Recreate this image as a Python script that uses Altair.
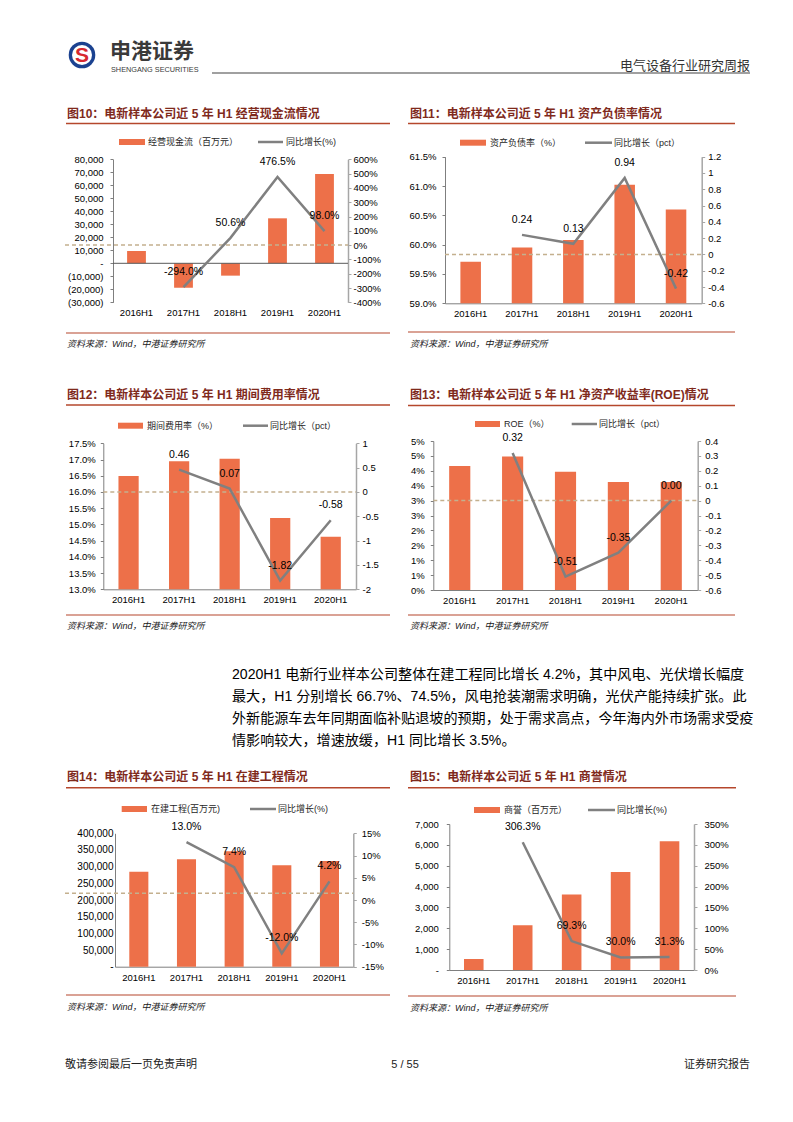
import altair as alt
import pandas as pd

# ---------------- data ----------------
CATS = ["2016H1", "2017H1", "2018H1", "2019H1", "2020H1"]

CASHFLOW = [9500, -18800, -9500, 34600, 68700]        # 经营现金流（百万元）
CASHFLOW_YOY = [None, -294.0, 50.6, 476.5, 98.0]      # 同比增长(%)
DEBT_RATIO = [59.71, 59.95, 60.08, 61.02, 60.60]      # 资产负债率（%）
DEBT_CHG = [None, 0.24, 0.13, 0.94, -0.42]            # 同比增长（pct）
EXPENSE_RATIO = [16.49, 16.95, 17.02, 15.20, 14.62]   # 期间费用率（%）
EXPENSE_CHG = [None, 0.46, 0.07, -1.82, -0.58]        # 同比增长（pct）
ROE = [4.16, 4.48, 3.97, 3.62, 3.62]                  # ROE（%）
ROE_CHG = [None, 0.32, -0.51, -0.35, 0.00]            # 同比增长（pct）
CIP = [285000, 322000, 346000, 304500, 317300]        # 在建工程(百万元)
CIP_YOY = [None, 13.0, 7.4, -12.0, 4.2]               # 同比增长(%)
GOODWILL = [527, 2140, 3620, 4700, 6170]              # 商誉（百万元）
GOODWILL_YOY = [None, 306.3, 69.3, 30.0, 31.3]        # 同比增长(%)

# axis tick values
T10_L = [-30000, -20000, -10000, 0, 10000, 20000, 30000, 40000, 50000, 60000, 70000, 80000]
T10_R = [-400, -300, -200, -100, 0, 100, 200, 300, 400, 500, 600]
T11_L = [59.0, 59.5, 60.0, 60.5, 61.0, 61.5]
T11_R = [-0.6, -0.4, -0.2, 0, 0.2, 0.4, 0.6, 0.8, 1.0, 1.2]
T12_L = [13.0, 13.5, 14.0, 14.5, 15.0, 15.5, 16.0, 16.5, 17.0, 17.5]
T12_R = [-2, -1.5, -1, -0.5, 0, 0.5, 1]
T13_L = [0, 0.5, 1, 1.5, 2, 2.5, 3, 3.5, 4, 4.5, 5]
T13_R = [-0.6, -0.5, -0.4, -0.3, -0.2, -0.1, 0, 0.1, 0.2, 0.3, 0.4]
T14_L = [0, 50000, 100000, 150000, 200000, 250000, 300000, 350000, 400000]
T14_R = [-15, -10, -5, 0, 5, 10, 15]
T15_L = [0, 1000, 2000, 3000, 4000, 5000, 6000, 7000]
T15_R = [0, 50, 100, 150, 200, 250, 300, 350]

PARAGRAPH = [
    "2020H1 电新行业样本公司整体在建工程同比增长 4.2%，其中风电、光伏增长幅度",
    "最大，H1 分别增长 66.7%、74.5%，风电抢装潮需求明确，光伏产能持续扩张。此",
    "外新能源车去年同期面临补贴退坡的预期，处于需求高点，今年海内外市场需求受疫",
    "情影响较大，增速放缓，H1 同比增长 3.5%。",
]
SOURCE = "资料来源：Wind，中港证券研究所"

# ---------------- style ----------------
W_CH, H_CH = 777, 1090
OFF = 8
FONT = "Liberation Sans, Noto Sans CJK SC, sans-serif"
BAR = "#ED7049"
LINE = "#808080"
TITLE_C = "#7F2A1C"
RULE_C = "#B5472C"
DASH_C = "#C4B08E"

ONE = pd.DataFrame({"k": [0]})

EXPR_PAREN = "datum.value == 0 ? '-' : (datum.value < 0 ? '(' + format(-datum.value, ',') + ')' : format(datum.value, ','))"
EXPR_DASH0 = "datum.value == 0 ? '-' : format(datum.value, ',')"
EXPR_PCT_SIGNED = "(datum.value < 0 ? '-' : '') + format(abs(datum.value), 'd') + '%'"
EXPR_G_SIGNED = "(datum.value < 0 ? '-' : '') + format(abs(datum.value), '~g')"
EXPR_1F_PCT = "format(datum.value, '.1f') + '%'"
EXPR_ROUND_PCT = "round(datum.value) + '%'"


def text_mark(s, x, y, size, color="#222222", weight="normal", align="left", style="normal"):
    return alt.Chart(ONE).mark_text(
        text=s, align=align, baseline="middle", fontSize=size, color=color,
        fontWeight=weight, fontStyle=style, font=FONT,
    ).encode(x=alt.value(x - OFF), y=alt.value(y - OFF))


def hline(x1, x2, y, color, width, dash=None):
    kw = dict(color=color, strokeWidth=width)
    if dash:
        kw["strokeDash"] = dash
    return alt.Chart(ONE).mark_rule(**kw).encode(
        x=alt.value(x1 - OFF), x2=alt.value(x2 - OFF), y=alt.value(y - OFF))


def rect(x1, x2, y1, y2, color):
    return alt.Chart(ONE).mark_rect(color=color).encode(
        x=alt.value(x1 - OFF), x2=alt.value(x2 - OFF),
        y=alt.value(y1 - OFF), y2=alt.value(y2 - OFF))


def dot(x, y, size, color):
    return alt.Chart(ONE).mark_point(shape="circle", filled=True, size=size, color=color, opacity=1).encode(
        x=alt.value(x - OFF), y=alt.value(y - OFF))


PANELS = [
    dict(plot=(113, 159.3, 348, 302.3), bars=CASHFLOW, line=CASHFLOW_YOY,
         bdom=[-30000, 80000], ldom=[-400, 600], bticks=T10_L, lticks=T10_R,
         bexpr=EXPR_PAREN, lexpr=EXPR_PCT_SIGNED, lab=lambda v: f"{v:.1f}%",
         title="图10：电新样本公司近 5 年 H1 经营现金流情况", title_xy=(67, 114),
         rule_x=(66, 390), rule_y=123.5, leg_y=142, leg_rect=(119, 145), leg_tx=148,
         leg_bar="经营现金流（百万元）", leg_line=(258, 283), leg_ltx=286, leg_lab="同比增长(%)",
         src_rule_y=333, src_xy=(67, 344), dash_at=0, dash_x1=65,
         xdomain=False, zero_rule=True, lpad=7, rpad=2, ltick=3),
    dict(plot=(445, 156.7, 701.7, 303.3), bars=DEBT_RATIO, line=DEBT_CHG,
         bdom=[59.0, 61.5], ldom=[-0.6, 1.2], bticks=T11_L, lticks=T11_R,
         bexpr=EXPR_1F_PCT, lexpr=EXPR_G_SIGNED, lab=lambda v: f"{v:.2f}",
         title="图11：电新样本公司近 5 年 H1 资产负债率情况", title_xy=(410, 114),
         rule_x=(408, 735), rule_y=123.5, leg_y=142.7, leg_rect=(460, 486), leg_tx=490,
         leg_bar="资产负债率（%）", leg_line=(585, 612), leg_ltx=614, leg_lab="同比增长（pct）",
         src_rule_y=332, src_xy=(410, 344), dash_at=0, dash_x1=445,
         xdomain=True, zero_rule=False, lpad=6, rpad=3, ltick=3),
    dict(plot=(103.3, 443.3, 356, 589.3), bars=EXPENSE_RATIO, line=EXPENSE_CHG,
         bdom=[13.0, 17.5], ldom=[-2, 1], bticks=T12_L, lticks=T12_R,
         bexpr=EXPR_1F_PCT, lexpr=EXPR_G_SIGNED, lab=lambda v: f"{v:.2f}",
         title="图12：电新样本公司近 5 年 H1 期间费用率情况", title_xy=(67, 395),
         rule_x=(66, 390), rule_y=405, leg_y=425.7, leg_rect=(118, 143), leg_tx=147,
         leg_bar="期间费用率（%）", leg_line=(243, 268), leg_ltx=270, leg_lab="同比增长（pct）",
         src_rule_y=615, src_xy=(67, 626), dash_at=0, dash_x1=103.3,
         xdomain=True, zero_rule=False, lpad=5, rpad=3, ltick=3),
    dict(plot=(433.3, 441, 697.7, 590), bars=ROE, line=ROE_CHG,
         bdom=[0, 5], ldom=[-0.6, 0.4], bticks=T13_L, lticks=T13_R,
         bexpr=EXPR_ROUND_PCT, lexpr=EXPR_G_SIGNED, lab=lambda v: f"{v:.2f}",
         title="图13：电新样本公司近 5 年 H1 净资产收益率(ROE)情况", title_xy=(410, 395),
         rule_x=(408, 735), rule_y=405.5, leg_y=424, leg_rect=(475, 500), leg_tx=504,
         leg_bar="ROE（%）", leg_line=(571.7, 597), leg_ltx=599, leg_lab="同比增长（pct）",
         src_rule_y=615, src_xy=(410, 626), dash_at=0, dash_x1=433.3,
         xdomain=True, zero_rule=False, lpad=6, rpad=4, ltick=3),
    dict(plot=(115, 833.3, 353.3, 966.7), bars=CIP, line=CIP_YOY,
         bdom=[0, 400000], ldom=[-15, 15], bticks=T14_L, lticks=T14_R,
         bexpr=EXPR_DASH0, lexpr=EXPR_PCT_SIGNED, lab=lambda v: f"{v:.1f}%",
         title="图14：电新样本公司近 5 年 H1 在建工程情况", title_xy=(67, 777),
         rule_x=(66, 390), rule_y=787.7, leg_y=809, leg_rect=(121.7, 147), leg_tx=151,
         leg_bar="在建工程(百万元)", leg_line=(250, 276), leg_ltx=278, leg_lab="同比增长(%)",
         src_rule_y=995, src_xy=(67, 1007), dash_at=1.5, dash_x1=65,
         xdomain=True, zero_rule=False, lpad=2, rpad=5, ltick=0, lsize=10),
    dict(plot=(449.3, 824, 694, 970), bars=GOODWILL, line=GOODWILL_YOY,
         bdom=[0, 7000], ldom=[0, 350], bticks=T15_L, lticks=T15_R,
         bexpr=EXPR_DASH0, lexpr="format(datum.value, 'd') + '%'", lab=lambda v: f"{v:.1f}%",
         title="图15：电新样本公司近 5 年 H1 商誉情况", title_xy=(410, 777),
         rule_x=(408, 736), rule_y=787.7, leg_y=810, leg_rect=(474, 500), leg_tx=504,
         leg_bar="商誉（百万元）", leg_line=(588, 615), leg_ltx=617, leg_lab="同比增长(%)",
         src_rule_y=996, src_xy=(410, 1008), dash_at=None, dash_x1=None,
         xdomain=True, zero_rule=False, lpad=8, rpad=7, ltick=3),
]


def decorations(p):
    out = []
    tx, ty = p["title_xy"]
    out.append(text_mark(p["title"], tx, ty, 12, color=TITLE_C, weight="bold"))
    out.append(hline(p["rule_x"][0], p["rule_x"][1], p["rule_y"], RULE_C, 1.5))
    ly = p["leg_y"]
    out.append(rect(p["leg_rect"][0], p["leg_rect"][1], ly - 3, ly + 3, BAR))
    out.append(text_mark(p["leg_bar"], p["leg_tx"], ly, 9, color="#262626"))
    out.append(hline(p["leg_line"][0], p["leg_line"][1], ly, LINE, 2.5))
    out.append(text_mark(p["leg_lab"], p["leg_ltx"], ly, 9, color="#262626"))
    out.append(hline(p["rule_x"][0], p["rule_x"][1], p["src_rule_y"], RULE_C, 1.2))
    sx, sy = p["src_xy"]
    out.append(text_mark(SOURCE, sx, sy, 9, color="#1a1a1a", style="italic"))
    return out


def panel(p):
    L, T, R, B = [v - OFF for v in p["plot"]]
    bars_df = pd.DataFrame({"cat": CATS, "v": p["bars"]})
    pts = [(c, v) for c, v in zip(CATS, p["line"]) if v is not None]
    line_df = pd.DataFrame({
        "cat": [c for c, _ in pts],
        "v": [v for _, v in pts],
        "lab": [p["lab"](v) for _, v in pts],
    })
    xs = alt.Scale(domain=CATS, range=[L, R], paddingInner=0.6, paddingOuter=0.3)
    x_axis = alt.Axis(orient="bottom", offset=B - H_CH, domain=p["xdomain"], domainColor="#7f7f7f",
                      domainWidth=1, ticks=False, tickSize=0, labelPadding=5.5, labelAngle=0,
                      labelFontSize=9.5, labelColor="black", labelFont=FONT, title=None,
                      grid=False, labelOverlap=False)
    x_bar = alt.X("cat:N", scale=xs, axis=x_axis)
    x_none = alt.X("cat:N", scale=xs, axis=None)
    bs = alt.Scale(domain=p["bdom"], range=[B, T], nice=False, zero=False)
    ls = alt.Scale(domain=p["ldom"], range=[B, T], nice=False, zero=False)
    left_axis = alt.Axis(orient="left", offset=-L, values=p["bticks"], labelExpr=p["bexpr"],
                         domainColor="#7f7f7f", domainWidth=1, tickColor="#7f7f7f",
                         ticks=p["ltick"] > 0, tickSize=p["ltick"], labelPadding=p["lpad"],
                         labelFontSize=p.get("lsize", 9.5), labelColor="black", labelFont=FONT,
                         grid=False, title=None, labelOverlap=False)
    right_axis = alt.Axis(orient="right", offset=R - W_CH, values=p["lticks"], labelExpr=p["lexpr"],
                          domainColor="#a6a6a6", domainWidth=1.5, tickColor="#a6a6a6", tickSize=3,
                          labelPadding=p["rpad"], labelFontSize=9.5, labelColor="black",
                          labelFont=FONT, grid=False, title=None, labelOverlap=False)
    base = 0 if p["bdom"][0] <= 0 else p["bdom"][0]
    bars = alt.Chart(bars_df).mark_bar(color=BAR).encode(
        x=x_bar, y=alt.Y("v:Q", scale=bs, axis=left_axis), y2=alt.Y2Datum(base))
    bar_layers = [bars]
    if p["zero_rule"]:
        bar_layers.append(alt.Chart(ONE).mark_rule(color="#595959", strokeWidth=1).encode(
            x=alt.value(L), x2=alt.value(R), y=alt.YDatum(0, scale=bs, axis=left_axis)))
    line_layers = []
    if p["dash_at"] is not None:
        line_layers.append(alt.Chart(ONE).mark_rule(color=DASH_C, strokeWidth=1.5, strokeDash=[4, 3]).encode(
            x=alt.value(p["dash_x1"] - OFF), x2=alt.value(R),
            y=alt.YDatum(p["dash_at"], scale=ls, axis=right_axis)))
    line_layers.append(alt.Chart(line_df).mark_line(color=LINE, strokeWidth=2.5).encode(
        x=x_none, y=alt.Y("v:Q", scale=ls, axis=right_axis)))
    line_layers.append(alt.Chart(line_df).mark_text(dy=-15, fontSize=10.5, font=FONT, color="black").encode(
        x=x_none, y=alt.Y("v:Q", scale=ls, axis=right_axis), text="lab:N"))
    return [alt.layer(*bar_layers), alt.layer(*line_layers)]


layers = []
# ---- page header ----
layers.append(dot(82, 55, 707, "#1B4290"))
layers.append(dot(82, 55, 400, "white"))
layers.append(text_mark("S", 82, 55.5, 21, color="#D7282F", weight="bold", align="center"))
layers.append(text_mark("申港证券", 110, 51.5, 21, color="#3a3a3a", weight="bold"))
layers.append(text_mark("SHENGANG SECURITIES", 111, 69.5, 7.3, color="#3a3a3a"))
layers.append(hline(212, 750, 73, "#808080", 1.5))
layers.append(text_mark("电气设备行业研究周报", 750, 65.5, 13, color="#333333", align="right"))

# ---- paragraph ----
for i, line in enumerate(PARAGRAPH):
    layers.append(text_mark(line, 232, 675 + 22 * i, 14.1, color="#000000"))

# ---- footer ----
layers.append(text_mark("敬请参阅最后一页免责声明", 65, 1065, 11, color="#222222"))
layers.append(text_mark("5 / 55", 405, 1065, 11, color="#222222", align="center"))
layers.append(text_mark("证券研究报告", 750, 1065, 11, color="#222222", align="right"))

for p in PANELS:
    layers.extend(decorations(p))
    layers.extend(panel(p))

chart = alt.layer(*layers).resolve_scale(
    x="independent", y="independent"
).properties(
    width=W_CH, height=H_CH, padding=0, autosize=alt.AutoSizeParams(type="none"), background="white"
).configure_view(strokeWidth=0)

chart.save("out.html", embed_options={"renderer": "svg", "actions": False})
